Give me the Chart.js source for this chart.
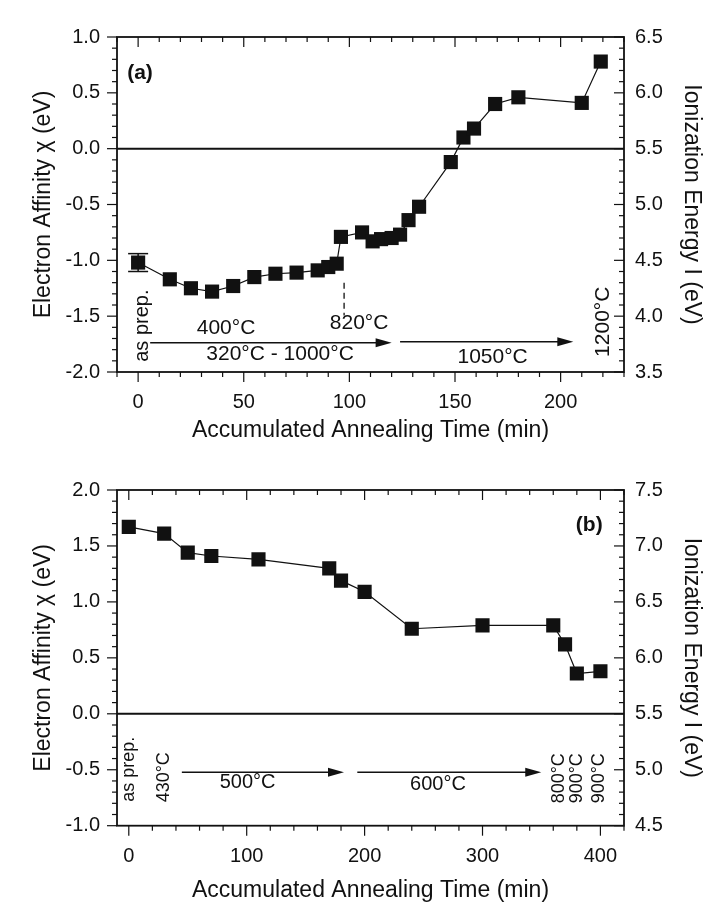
<!DOCTYPE html>
<html>
<head>
<meta charset="utf-8">
<script src="https://cdn.jsdelivr.net/npm/chart.js@4.4.0/dist/chart.umd.min.js"></script>
<style>
html, body { margin: 0; padding: 0; background: #fff; }
#wrapA { position: absolute; left: 0; top: 0; width: 706px; height: 450px; }
#wrapB { position: absolute; left: 0; top: 450px; width: 706px; height: 454px; }
</style>
</head>
<body>
<div id="wrapA"><canvas id="chartA" width="706" height="450"></canvas></div>
<div id="wrapB"><canvas id="chartB" width="706" height="454"></canvas></div>
<script>
// panel (a): accumulated annealing time (min) vs electron affinity (eV)
const timeA = [0, 15, 25, 35, 45, 55, 65, 75, 85, 90, 94, 96, 106, 111, 115, 120, 124, 128, 133, 148, 154, 159, 169, 180, 210, 219];
const chiA = [-1.02, -1.17, -1.25, -1.28, -1.23, -1.15, -1.12, -1.11, -1.09, -1.06, -1.03, -0.79, -0.75, -0.83, -0.81, -0.80, -0.77, -0.64, -0.52, -0.12, 0.10, 0.18, 0.40, 0.46, 0.41, 0.78];
const errA = [0.08, 0, 0, 0, 0, 0, 0, 0, 0, 0, 0, 0, 0, 0, 0, 0, 0, 0, 0, 0, 0, 0, 0, 0, 0, 0];
const xTicksA = [0, 50, 100, 150, 200];
const yTicksA = [-2.0, -1.5, -1.0, -0.5, 0.0, 0.5, 1.0];
const y2TicksA = [3.5, 4.0, 4.5, 5.0, 5.5, 6.0, 6.5];

// panel (b)
const timeB = [0, 30, 50, 70, 110, 170, 180, 200, 240, 300, 360, 370, 380, 400];
const chiB = [1.67, 1.61, 1.44, 1.41, 1.38, 1.30, 1.19, 1.09, 0.76, 0.79, 0.79, 0.62, 0.36, 0.38];
const xTicksB = [0, 100, 200, 300, 400];
const yTicksB = [-1.0, -0.5, 0.0, 0.5, 1.0, 1.5, 2.0];
const y2TicksB = [4.5, 5.0, 5.5, 6.0, 6.5, 7.0, 7.5];

const xTitle = 'Accumulated Annealing Time (min)';
const yTitle = 'Electron Affinity \u03C7 (eV)';
const y2Title = 'Ionization Energy I (eV)';

const FONT = "'Liberation Sans', Arial, Helvetica, sans-serif";
const INK = '#111';

// text and arrows inside the plots, placed in data units
const notesA = [
    { text: '(a)', x: -5.2, y: 0.675, align: 'left', bold: true, size: 21 },
    { text: 'as prep.', x: 1.9, y: -1.585, rot: -90, size: 20 },
    { text: '400\u00B0C', x: 41.6, y: -1.61, size: 21 },
    { text: '320\u00B0C - 1000\u00B0C', x: 67.2, y: -1.845, size: 21 },
    { text: '820\u00B0C', x: 104.6, y: -1.567, size: 21 },
    { text: '1050\u00B0C', x: 167.8, y: -1.87, size: 21 },
    { text: '1200\u00B0C', x: 220, y: -1.55, rot: -90, size: 21 }
];
const arrowsA = [
    { x1: 5.7, x2: 120, y: -1.737 },
    { x1: 124, x2: 206, y: -1.73 }
];
const dashesA = [{ x: 97.5, y1: -1.2, y2: -1.495 }];

const notesB = [
    { text: '(b)', x: 390.5, y: 1.683, bold: true, size: 21 },
    { text: 'as prep.', x: 0, y: -0.495, rot: -90, size: 18 },
    { text: '430\u00B0C', x: 30, y: -0.567, rot: -90, size: 18 },
    { text: '500\u00B0C', x: 100.8, y: -0.61, size: 20 },
    { text: '600\u00B0C', x: 262.2, y: -0.63, size: 20 },
    { text: '800\u00B0C', x: 365, y: -0.576, rot: -90, size: 18 },
    { text: '900\u00B0C', x: 380, y: -0.576, rot: -90, size: 18 },
    { text: '900\u00B0C', x: 399.2, y: -0.576, rot: -90, size: 18 }
];
const arrowsB = [
    { x1: 45, x2: 182.5, y: -0.522 },
    { x1: 193.8, x2: 349.8, y: -0.522 }
];

// frame, minor/major ticks, zero line, error bars and notes
const framePlugin = {
    id: 'frame',
    afterDatasetsDraw(chart, args, o) {
        const ctx = chart.ctx, a = chart.chartArea;
        const sx = chart.scales.x, sy = chart.scales.y, sy2 = chart.scales.y2;
        const seg = (x1, y1, x2, y2) => { ctx.beginPath(); ctx.moveTo(x1, y1); ctx.lineTo(x2, y2); ctx.stroke(); };
        const isMajor = (v, step) => Math.abs(v / step - Math.round(v / step)) < 1e-6;
        ctx.save();
        ctx.strokeStyle = INK;
        ctx.fillStyle = INK;

        ctx.lineWidth = 2;
        const y0 = sy.getPixelForValue(0);
        seg(a.left, y0, a.right, y0);

        ctx.lineWidth = 1.2;
        for (let k = Math.ceil(sx.min / o.xMinor); k * o.xMinor <= sx.max + 1e-9; k++) {
            const v = k * o.xMinor, px = sx.getPixelForValue(v);
            const len = isMajor(v, o.xMajor) ? 10 : 5;
            seg(px, a.bottom, px, a.bottom + len);
            seg(px, a.top, px, a.top + len);
        }
        for (let k = Math.ceil(sy.min / 0.1 - 1e-6); k * 0.1 <= sy.max + 1e-9; k++) {
            const v = k * 0.1, py = sy.getPixelForValue(v);
            seg(a.left, py, a.left - (isMajor(v, 0.5) ? 10 : 5), py);
        }
        for (let k = Math.ceil(sy2.min / 0.1 - 1e-6); k * 0.1 <= sy2.max + 1e-9; k++) {
            const v = k * 0.1, py = sy2.getPixelForValue(v);
            seg(a.right, py, a.right - (isMajor(v, 0.5) ? 10 : 5), py);
        }

        ctx.lineWidth = 1.8;
        ctx.strokeRect(a.left, a.top, a.right - a.left, a.bottom - a.top);

        // error bars
        ctx.lineWidth = 1.5;
        (o.err || []).forEach((e, i) => {
            if (!e) return;
            const px = sx.getPixelForValue(o.xs[i]);
            const top = sy.getPixelForValue(o.ys[i] + e), bot = sy.getPixelForValue(o.ys[i] - e);
            seg(px, top, px, bot);
            seg(px - 10, top, px + 10, top);
            seg(px - 10, bot, px + 10, bot);
        });

        // dashed markers
        ctx.lineWidth = 1.3;
        ctx.setLineDash([6, 4]);
        (o.dashes || []).forEach(d => {
            const px = sx.getPixelForValue(d.x);
            seg(px, sy.getPixelForValue(d.y1), px, sy.getPixelForValue(d.y2));
        });
        ctx.setLineDash([]);

        // arrows
        ctx.lineWidth = 1.5;
        (o.arrows || []).forEach(r => {
            const x1 = sx.getPixelForValue(r.x1), x2 = sx.getPixelForValue(r.x2), py = sy.getPixelForValue(r.y);
            seg(x1, py, x2 - 10, py);
            ctx.beginPath();
            ctx.moveTo(x2, py);
            ctx.lineTo(x2 - 16, py - 4.5);
            ctx.lineTo(x2 - 16, py + 4.5);
            ctx.closePath();
            ctx.fill();
        });

        // notes
        (o.notes || []).forEach(n => {
            ctx.save();
            ctx.translate(sx.getPixelForValue(n.x), sy.getPixelForValue(n.y));
            if (n.rot) ctx.rotate(n.rot * Math.PI / 180);
            ctx.font = (n.bold ? 'bold ' : '') + n.size + 'px ' + FONT;
            ctx.textAlign = n.align || 'center';
            ctx.textBaseline = 'middle';
            ctx.fillText(n.text, 0, 0);
            ctx.restore();
        });
        ctx.restore();
    }
};

function makeChart(id, p) {
    const pts = p.xs.map((t, i) => ({ x: t, y: p.ys[i] }));
    const tickFont = { family: FONT, size: 20 };
    const titleFont = { family: FONT, size: 23 };
    return new Chart(document.getElementById(id), {
        type: 'scatter',
        data: {
            datasets: [{
                data: pts,
                showLine: true,
                borderColor: INK,
                borderWidth: 1.2,
                backgroundColor: INK,
                pointStyle: 'rect',
                pointRadius: 10,
                pointBorderWidth: 0,
                pointBackgroundColor: INK
            }]
        },
        options: {
            responsive: false,
            animation: false,
            layout: { padding: { top: p.top, left: 0, right: 0, bottom: 0 } },
            plugins: {
                legend: { display: false },
                tooltip: { enabled: false },
                frame: {
                    xs: p.xs, ys: p.ys, err: p.err, xMinor: p.xMinor, xMajor: p.xMajor,
                    notes: p.notes, arrows: p.arrows, dashes: p.dashes
                }
            },
            scales: {
                x: {
                    type: 'linear', position: 'bottom', min: p.xMin, max: p.xMax,
                    afterBuildTicks: s => { s.ticks = p.xTicks.map(v => ({ value: v })); },
                    afterFit: s => { s.height = p.xHeight; },
                    grid: { display: false, drawTicks: false },
                    border: { display: false },
                    ticks: { font: tickFont, color: INK, padding: p.xPad, maxRotation: 0, callback: v => String(v) },
                    title: { display: true, text: xTitle, font: titleFont, color: INK, padding: { top: 0, bottom: p.xTitlePad } }
                },
                y: {
                    type: 'linear', position: 'left', min: p.yMin, max: p.yMax,
                    afterBuildTicks: s => { s.ticks = p.yTicks.map(v => ({ value: v })); },
                    afterFit: s => { s.width = 117; },
                    grid: { display: false, drawTicks: false },
                    border: { display: false },
                    ticks: { font: tickFont, color: INK, padding: 17, callback: v => v.toFixed(1) },
                    title: { display: true, text: yTitle, font: titleFont, color: INK, padding: { top: 30, bottom: 0 } }
                },
                y2: {
                    type: 'linear', position: 'right', min: p.y2Min, max: p.y2Max,
                    afterBuildTicks: s => { s.ticks = p.y2Ticks.map(v => ({ value: v })); },
                    afterFit: s => { s.width = 82; },
                    grid: { display: false, drawTicks: false },
                    border: { display: false },
                    ticks: { font: tickFont, color: INK, padding: 11, callback: v => v.toFixed(1) },
                    title: { display: true, text: y2Title, font: titleFont, color: INK, padding: { top: 1, bottom: 0 } }
                }
            }
        },
        plugins: [framePlugin]
    });
}

makeChart('chartA', {
    xs: timeA, ys: chiA, err: errA,
    xTicks: xTicksA, yTicks: yTicksA, y2Ticks: y2TicksA,
    xMin: -10, xMax: 230, yMin: -2, yMax: 1, y2Min: 3.5, y2Max: 6.5,
    xMinor: 10, xMajor: 50,
    top: 37, xHeight: 78, xPad: 18, xTitlePad: 6,
    notes: notesA, arrows: arrowsA, dashes: dashesA
});

makeChart('chartB', {
    xs: timeB, ys: chiB, err: null,
    xTicks: xTicksB, yTicks: yTicksB, y2Ticks: y2TicksB,
    xMin: -10, xMax: 420, yMin: -1, yMax: 2, y2Min: 4.5, y2Max: 7.5,
    xMinor: 20, xMajor: 100,
    top: 40, xHeight: 78.3, xPad: 19, xTitlePad: 0,
    notes: notesB, arrows: arrowsB, dashes: []
});
</script>
</body>
</html>
